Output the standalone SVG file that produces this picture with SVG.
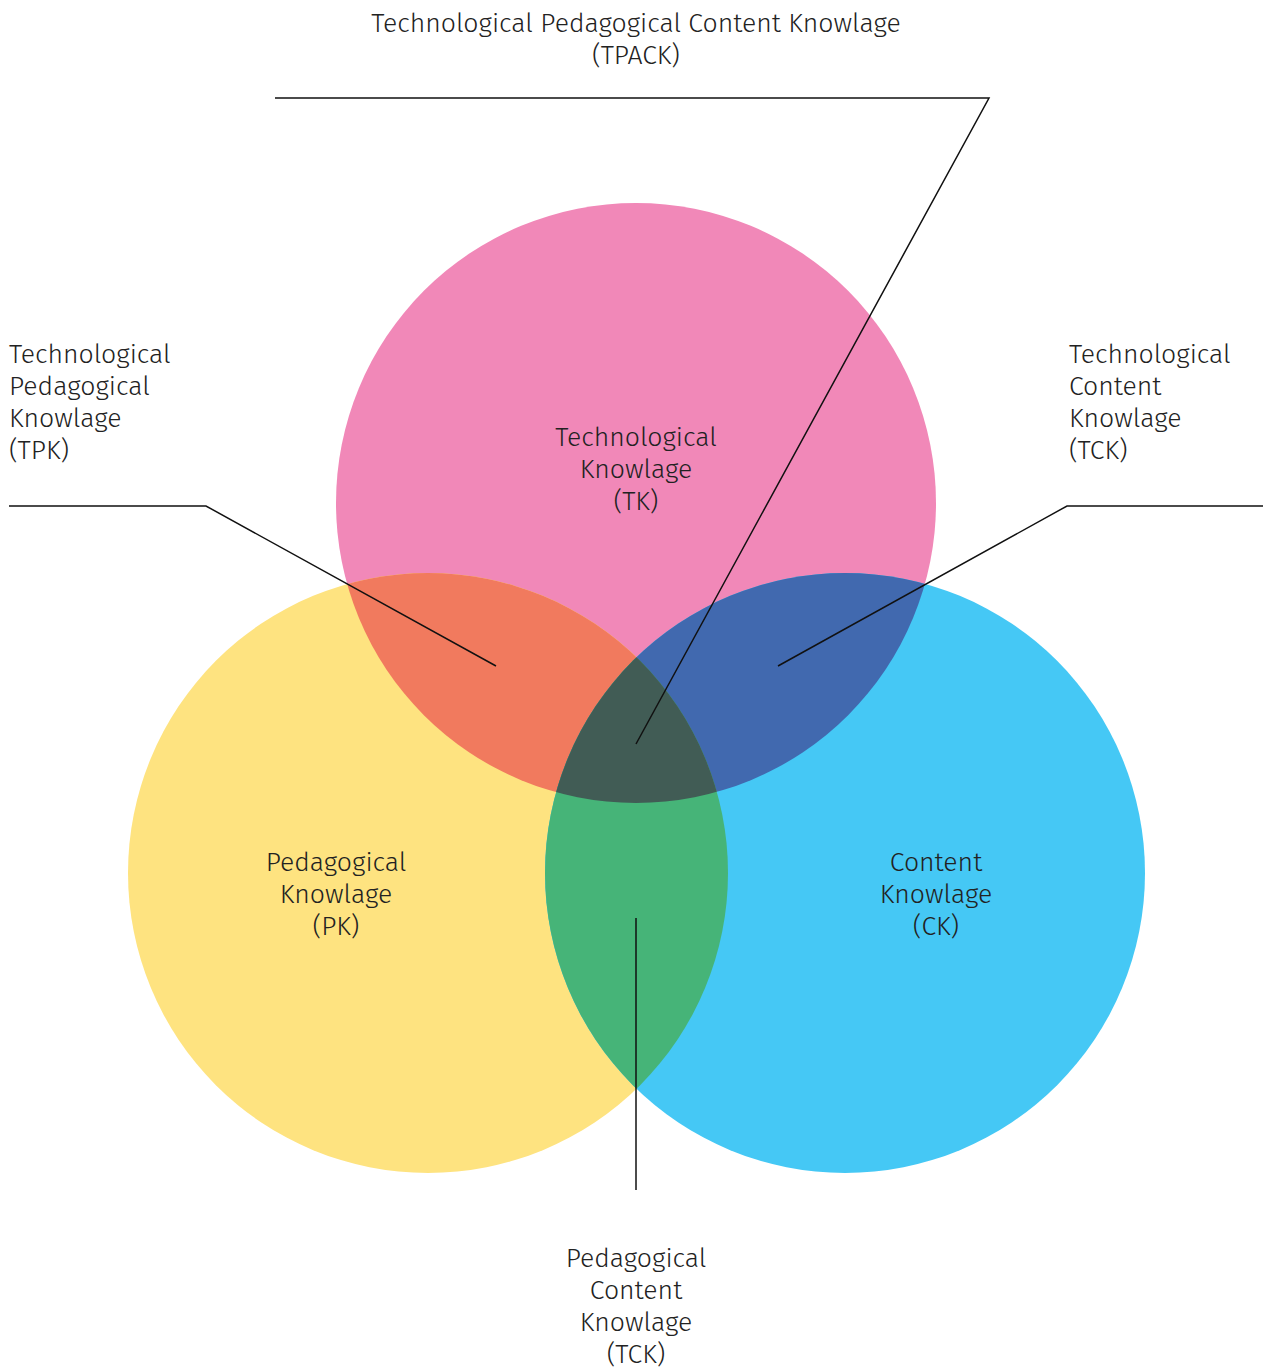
<svg xmlns="http://www.w3.org/2000/svg" width="1263" height="1368" viewBox="0 0 1263 1368">
<style>
text{font-family:"Fira Sans","Open Sans","Noto Sans",sans-serif;font-weight:300;font-size:26.6px;fill:#222}
.c{text-anchor:middle}
.ln{fill:none;stroke:#111;stroke-width:1.5}
</style>
<defs>
<clipPath id="cTK"><circle cx="636" cy="503" r="300"/></clipPath>
<clipPath id="cPK"><circle cx="428" cy="873" r="300"/></clipPath>
<clipPath id="cCK"><circle cx="845" cy="873" r="300"/></clipPath>
</defs>
<rect width="1263" height="1368" fill="#fff"/>
<g id="TK"><circle cx="636" cy="503" r="300" fill="#F188B8"/></g>
<g id="PK"><circle cx="428" cy="873" r="300" fill="#FEE380"/></g>
<g id="CK"><circle cx="845" cy="873" r="300" fill="#45C8F5"/></g>
<g id="TPK"><circle cx="428" cy="873" r="300" fill="#F17A5E" clip-path="url(#cTK)"/></g>
<g id="TCK"><circle cx="845" cy="873" r="300" fill="#4169AF" clip-path="url(#cTK)"/></g>
<g id="PCK"><circle cx="845" cy="873" r="300" fill="#46B478" clip-path="url(#cPK)"/></g>
<g id="TPACK" clip-path="url(#cTK)"><circle cx="845" cy="873" r="300" fill="#415C55" clip-path="url(#cPK)"/></g>
<g id="connectors">
<polyline class="ln" points="275,98 989,98 636,744"/>
<polyline class="ln" points="9,506 206,506 496,666"/>
<polyline class="ln" points="1263,506 1067,506 778,666"/>
<line class="ln" x1="636" y1="918" x2="636" y2="1190"/>
</g>
<g id="labels">
<text class="c" x="636" y="32">Technological Pedagogical Content Knowlage</text>
<text class="c" x="636" y="64">(TPACK)</text>
<text x="9" y="363">Technological</text>
<text x="9" y="395">Pedagogical</text>
<text x="9" y="427">Knowlage</text>
<text x="9" y="459">(TPK)</text>
<text x="1069" y="363">Technological</text>
<text x="1069" y="395">Content</text>
<text x="1069" y="427">Knowlage</text>
<text x="1069" y="459">(TCK)</text>
<text class="c" x="636" y="446">Technological</text>
<text class="c" x="636" y="478">Knowlage</text>
<text class="c" x="636" y="510">(TK)</text>
<text class="c" x="336" y="871">Pedagogical</text>
<text class="c" x="336" y="903">Knowlage</text>
<text class="c" x="336" y="935">(PK)</text>
<text class="c" x="936" y="871">Content</text>
<text class="c" x="936" y="903">Knowlage</text>
<text class="c" x="936" y="935">(CK)</text>
<text class="c" x="636" y="1267">Pedagogical</text>
<text class="c" x="636" y="1299">Content</text>
<text class="c" x="636" y="1331">Knowlage</text>
<text class="c" x="636" y="1363">(TCK)</text>
</g>
</svg>
